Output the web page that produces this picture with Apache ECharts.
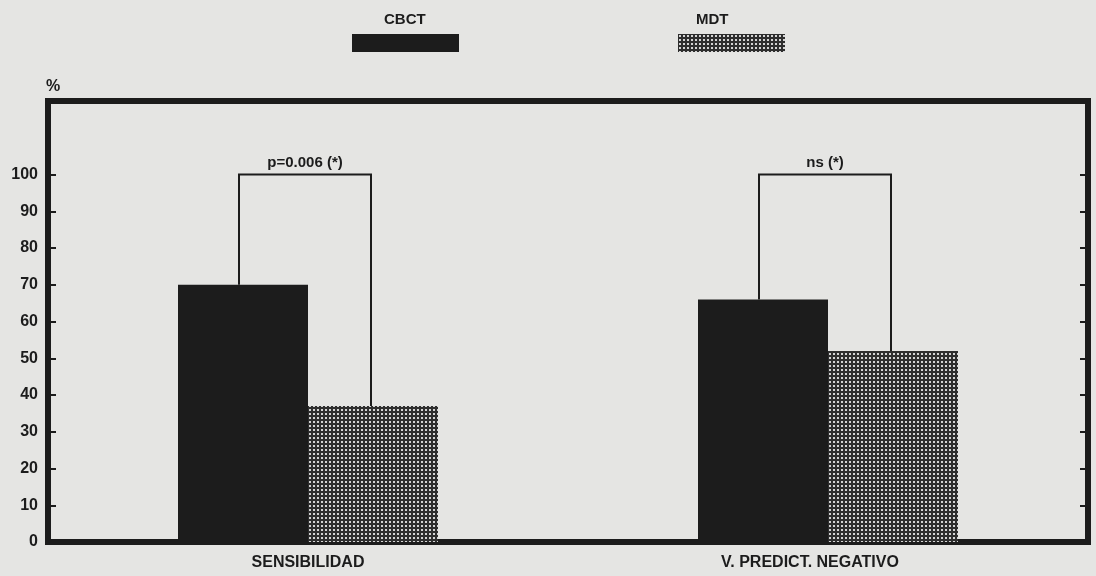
<!DOCTYPE html>
<html>
<head>
<meta charset="utf-8">
<script src="https://cdn.jsdelivr.net/npm/echarts@6/dist/echarts.min.js"></script>
<style>
  html, body { margin: 0; padding: 0; background: #e5e5e3; }
  #chart { width: 1096px; height: 576px; }
</style>
</head>
<body>
<div id="chart"></div>
<script>
// datos
const categories = ['SENSIBILIDAD', 'V. PREDICT. NEGATIVO'];
const cbct = [70, 66];
const mdt = [37, 52];
const yTicks = [0, 10, 20, 30, 40, 50, 60, 70, 80, 90, 100];
// corchetes de significacion: [categoria, lado CBCT, lado MDT, tope]
const brackets = [[0, 70, 37, 100], [1, 66, 52, 100]];
const pLabels = ['p=0.006 (*)', 'ns (*)'];

const ink = '#1c1c1c';
const font = '"Liberation Sans", Arial, sans-serif';

// trama punteada para MDT
function makePattern() {
    const c = document.createElement('canvas');
    c.width = 4;
    c.height = 4;
    const ctx = c.getContext('2d');
    ctx.fillStyle = '#2e2e2e';
    ctx.fillRect(0, 0, 4, 4);
    ctx.fillStyle = '#d4d4d4';
    ctx.fillRect(1, 1, 2, 2);
    return c;
}
const mdtFill = { image: makePattern(), repeat: 'repeat' };

const chart = echarts.init(document.getElementById('chart'));

const option = {
    backgroundColor: '#e5e5e3',
    animation: false,
    textStyle: { fontFamily: font, color: ink },
    legend: [
        {
            data: ['CBCT'], left: 352, top: 34, itemWidth: 107, itemHeight: 18, padding: 0,
            icon: 'rect', selectedMode: false, formatter: () => '', itemGap: 0
        },
        {
            data: ['MDT'], left: 678, top: 34, itemWidth: 107, itemHeight: 18, padding: 0,
            icon: 'rect', selectedMode: false, formatter: () => '', itemGap: 0
        }
    ],
    graphic: [
        { type: 'text', left: 384, top: 12, style: { text: 'CBCT', font: 'bold 15px ' + font, fill: ink } },
        { type: 'text', left: 696, top: 12, style: { text: 'MDT', font: 'bold 15px ' + font, fill: ink } }
    ],
    grid: {
        left: 48, right: 8, top: 101, bottom: 34,
        show: true, borderColor: ink, borderWidth: 6, backgroundColor: 'transparent'
    },
    xAxis: {
        type: 'category',
        data: categories,
        axisLine: { show: false },
        axisTick: { show: false },
        axisLabel: {
            fontSize: 16, color: ink, margin: 13, fontFamily: font, fontWeight: 'bold',
            formatter: (v, i) => i === 1 ? '{b|' + v + '}' : '{a|' + v + '}',
            rich: {
                a: { fontSize: 16, fontFamily: font, fontWeight: 'bold', color: ink },
                b: { fontSize: 16, fontFamily: font, fontWeight: 'bold', color: ink, padding: [0, 36, 0, 0] }
            }
        }
    },
    yAxis: [
        {
            type: 'value', min: 0, max: 120, interval: 10,
            name: '%', nameLocation: 'end', nameGap: 6,
            nameTextStyle: { fontSize: 16, fontWeight: 'bold', color: ink, align: 'left', padding: [0, 0, 0, -2], fontFamily: font },
            splitLine: { show: false },
            axisLine: { show: false },
            axisTick: { show: true, inside: true, length: 8, lineStyle: { color: ink, width: 2 }, customValues: yTicks },
            axisLabel: { fontSize: 16, fontWeight: 'bold', color: ink, margin: 10, fontFamily: font, customValues: yTicks }
        },
        {
            type: 'value', min: 0, max: 120, interval: 10, position: 'right',
            splitLine: { show: false },
            axisLine: { show: false },
            axisTick: { show: true, inside: true, length: 8, lineStyle: { color: ink, width: 2 }, customValues: yTicks },
            axisLabel: { show: false }
        }
    ],
    series: [
        {
            name: 'CBCT', type: 'bar', data: cbct, barWidth: '25%', barGap: '0%',
            itemStyle: { color: ink }
        },
        {
            name: 'MDT', type: 'bar', data: mdt, barWidth: '25%', barGap: '0%',
            itemStyle: { color: mdtFill }
        },
        {
            type: 'custom',
            data: brackets,
            silent: true,
            renderItem: function (params, api) {
                const idx = api.value(0);
                const cx = api.coord([idx, 0])[0];
                const barW = api.size([1, 0])[0] * 0.25;
                const lx = cx - barW / 2 - 4;
                const rx = cx + barW / 2 - 2;
                const yl = api.coord([idx, api.value(1)])[1];
                const yr = api.coord([idx, api.value(2)])[1];
                const yt = api.coord([idx, api.value(3)])[1];
                return {
                    type: 'group',
                    children: [
                        {
                            type: 'polyline',
                            shape: { points: [[lx, yl], [lx, yt], [rx, yt], [rx, yr]] },
                            style: { stroke: ink, lineWidth: 2, fill: null }
                        },
                        {
                            type: 'text',
                            x: (lx + rx) / 2, y: yt - 4,
                            style: {
                                text: pLabels[params.dataIndex], font: 'bold 15px ' + font,
                                fill: ink, align: 'center', verticalAlign: 'bottom'
                            }
                        }
                    ]
                };
            }
        }
    ]
};

chart.setOption(option);
</script>
</body>
</html>
